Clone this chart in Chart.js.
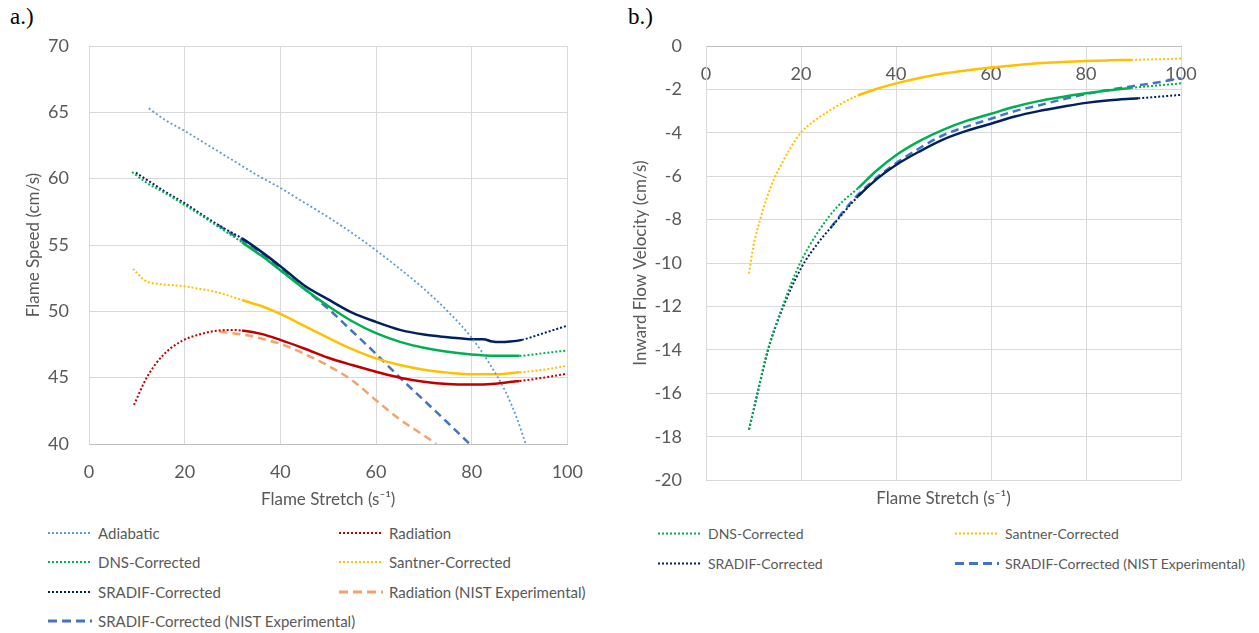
<!DOCTYPE html>
<html>
<head>
<meta charset="utf-8">
<script src="https://cdn.jsdelivr.net/npm/chart.js@4.4.1/dist/chart.umd.min.js"></script>
<style>
  body { margin: 0; width: 1259px; height: 633px; background: #fff; position: relative; overflow: hidden; font-family: Lato, sans-serif; }
  .tag { position: absolute; top: 4px; font-family: "Liberation Serif", serif; font-size: 23px; color: #000; }
  canvas { position: absolute; top: 0; }
  .item { position: absolute; display: flex; align-items: center; white-space: nowrap; font-size: 14px; color: #595959; transform: translateY(-50%); }
  #legendA .item { font-size: 15px; }
  .item svg { margin-right: 6px; }
</style>
</head>
<body>
<div class="tag" style="left:10px">a.)</div>
<div class="tag" style="left:628px">b.)</div>
<canvas id="chartA" width="600" height="515" style="left:0"></canvas>
<canvas id="chartB" width="659" height="515" style="left:600px"></canvas>
<div id="legendA"></div>
<div id="legendB"></div>
<script>
// ---- panel a: flame speed vs stretch ----
const adiabaticX = [12.5, 16, 20, 25, 30, 35, 40, 45, 50, 55, 60, 65, 70, 75, 80, 84, 87, 89.5, 91.3];
const adiabaticY = [65.3, 64.4, 63.6, 62.5, 61.4, 60.3, 59.3, 58.2, 57.1, 55.9, 54.6, 53.2, 51.7, 50.0, 48.0, 45.9, 44.0, 41.9, 40.0];

const radiationX = [9.4, 12, 15.5, 19.6, 23, 26, 30, 32, 36, 40, 45, 50, 55, 60, 65, 70, 75, 80, 85, 90, 95, 100];
const radiationY = [42.95, 44.96, 46.7, 47.8, 48.25, 48.5, 48.6, 48.55, 48.3, 47.85, 47.2, 46.5, 45.95, 45.45, 45.0, 44.7, 44.52, 44.48, 44.55, 44.75, 45.0, 45.3];

const dnsX = [9, 12, 16, 19.8, 24, 28, 32, 36, 40, 45, 50, 55, 60, 65, 70, 75, 80, 85, 90, 95, 100];
const dnsY = [60.5, 59.7, 58.9, 58.06, 57.1, 56.15, 55.2, 54.2, 53.1, 51.7, 50.4, 49.25, 48.35, 47.7, 47.25, 46.95, 46.75, 46.65, 46.65, 46.85, 47.05];

const santnerX = [9.2, 11.8, 15, 19.8, 23, 26.1, 29, 32, 36, 40, 45, 50, 55, 60, 65, 70, 75, 80, 85, 90, 95, 100];
const santnerY = [53.2, 52.3, 52.05, 51.9, 51.7, 51.5, 51.2, 50.85, 50.4, 49.8, 48.9, 48.0, 47.15, 46.45, 45.95, 45.6, 45.38, 45.25, 45.25, 45.4, 45.6, 45.9];

const sradifX = [9.8, 13, 16, 19.8, 24, 28, 32, 36, 40, 45, 50, 55, 60, 65, 70, 75, 78, 80.5, 82.5, 84, 86, 88, 90.5, 95, 100];
const sradifY = [60.45, 59.7, 59.0, 58.2, 57.2, 56.3, 55.5, 54.5, 53.4, 51.95, 50.9, 49.9, 49.2, 48.6, 48.25, 48.05, 47.95, 47.9, 47.9, 47.75, 47.68, 47.72, 47.85, 48.35, 48.92];

const radNistX = [27.3, 30, 33, 36, 40, 45, 50, 55, 60, 65, 70, 72.6];
const radNistY = [48.47, 48.35, 48.2, 47.95, 47.55, 46.8, 45.9, 44.8, 43.3, 41.85, 40.65, 40.0];

const sradifNistX = [27, 30, 32.5, 36, 40, 45, 50, 55, 60, 65, 70, 75, 79.6];
const sradifNistY = [56.5, 55.8, 55.2, 54.3, 53.2, 51.7, 50.2, 48.5, 46.8, 45.0, 43.3, 41.6, 40.0];

// ---- panel b: inward flow velocity vs stretch ----
const santnerBX = [9.05, 10, 11.3, 12.8, 14.4, 16, 17.5, 20.1, 22.5, 25.5, 28.5, 32, 36, 40, 45, 50, 55, 60, 65, 70, 75, 80, 85, 89.5, 95, 100];
const santnerBY = [-10.48, -9.2, -8.07, -7.0, -6.09, -5.4, -4.8, -3.96, -3.5, -3.05, -2.65, -2.28, -1.97, -1.72, -1.47, -1.27, -1.12, -0.99, -0.89, -0.8, -0.74, -0.69, -0.66, -0.64, -0.61, -0.58];

const dnsBX = [9.05, 10.8, 13, 16.1, 19.7, 23.7, 27.7, 32, 36, 40, 45, 50, 55, 60, 65, 70, 75, 80, 85, 89.5, 95, 100];
const dnsBY = [-17.67, -16.0, -14.0, -12.0, -10.05, -8.53, -7.39, -6.55, -5.72, -5.03, -4.37, -3.85, -3.44, -3.12, -2.8, -2.54, -2.35, -2.18, -2.04, -1.93, -1.82, -1.72];

const sradifBX = [9.05, 10.8, 13, 16.1, 20.1, 23.5, 26.8, 32, 36, 40, 45, 50, 55, 60, 65, 70, 75, 80, 85, 91, 95, 100];
const sradifBY = [-17.67, -16.05, -14.05, -12.1, -10.2, -9.1, -8.23, -6.93, -6.12, -5.48, -4.85, -4.3, -3.9, -3.58, -3.25, -3.0, -2.8, -2.62, -2.5, -2.41, -2.34, -2.25];

const sradifNistBX = [26.2, 29, 32, 36, 40, 45, 50, 55, 60, 65, 70, 75, 80, 85, 89.5, 95, 100];
const sradifNistBY = [-8.38, -7.6, -6.85, -6.05, -5.4, -4.7, -4.1, -3.7, -3.35, -3.0, -2.74, -2.46, -2.21, -2.02, -1.86, -1.68, -1.49];

const xTicks = [0, 20, 40, 60, 80, 100];
const speedTicks = [40, 45, 50, 55, 60, 65, 70];
const velocityTicks = [0, -2, -4, -6, -8, -10, -12, -14, -16, -18, -20];

const GREY = '#595959';
const GRID = '#d9d9d9';
Chart.defaults.font.family = 'Lato, sans-serif';
Chart.defaults.color = GREY;

function zip(xs, ys) {
  return xs.map((x, i) => ({x: x, y: ys[i]}));
}

// a line that is dotted outside [lo, hi] and solid inside it
function fitted(label, color, xs, ys, lo, hi) {
  return {
    label: label, data: zip(xs, ys), borderColor: color, style: 'dot',
    borderWidth: 2, borderDash: [2, 2], pointRadius: 0, cubicInterpolationMode: 'monotone',
    segment: {
      borderDash: ctx => (ctx.p0.parsed.x >= lo && ctx.p1.parsed.x <= hi) ? [] : [2, 2],
      borderWidth: ctx => (ctx.p0.parsed.x >= lo && ctx.p1.parsed.x <= hi) ? 2.5 : 2
    }
  };
}
function dotted(label, color, xs, ys) {
  return {label: label, data: zip(xs, ys), borderColor: color, style: 'dot',
    borderWidth: 1.8, borderDash: [2, 2.4], pointRadius: 0, cubicInterpolationMode: 'monotone'};
}
function dashed(label, color, xs, ys) {
  return {label: label, data: zip(xs, ys), borderColor: color, style: 'dash',
    borderWidth: 2.5, borderDash: [8, 5], pointRadius: 0, cubicInterpolationMode: 'monotone'};
}

const tickFont = {size: 18};
const titleFont = {size: 17};

const chartA = new Chart(document.getElementById('chartA'), {
  type: 'line',
  data: {datasets: [
    dotted('Adiabatic', '#5b9bd5', adiabaticX, adiabaticY),
    fitted('Radiation', '#c00000', radiationX, radiationY, 32, 90),
    fitted('DNS-Corrected', '#00b050', dnsX, dnsY, 32, 90),
    fitted('Santner-Corrected', '#ffc000', santnerX, santnerY, 32, 90),
    fitted('SRADIF-Corrected', '#002060', sradifX, sradifY, 32, 90.5),
    dashed('Radiation (NIST Experimental)', '#f4a26a', radNistX, radNistY),
    dashed('SRADIF-Corrected (NIST Experimental)', '#4472c4', sradifNistX, sradifNistY)
  ]},
  options: {
    responsive: false, animation: false,
    layout: {padding: {top: 46, right: 31, left: 0, bottom: 0}},
    plugins: {legend: {display: false}, tooltip: {enabled: false}},
    scales: {
      x: {
        type: 'linear', min: 0, max: 100,
        afterBuildTicks: s => { s.ticks = xTicks.map(v => ({value: v})); },
        ticks: {font: tickFont, padding: 17, maxRotation: 0},
        grid: {color: GRID, drawTicks: false},
        border: {color: '#bfbfbf'},
        title: {display: true, text: 'Flame Stretch (s\u207B\u00B9)', font: titleFont, padding: {top: 0, bottom: 5}},
        afterFit: s => { s.height = 71; }
      },
      y: {
        min: 40, max: 70,
        afterBuildTicks: s => { s.ticks = speedTicks.map(v => ({value: v})); },
        ticks: {font: tickFont, padding: 20},
        grid: {color: GRID, drawTicks: false},
        border: {color: GRID},
        title: {display: true, text: 'Flame Speed (cm/s)', font: titleFont, padding: {top: 23, bottom: 0}},
        afterFit: s => { s.width = 89; }
      }
    }
  }
});

const chartB = new Chart(document.getElementById('chartB'), {
  type: 'line',
  data: {datasets: [
    fitted('DNS-Corrected', '#00b050', dnsBX, dnsBY, 32, 90),
    fitted('Santner-Corrected', '#ffc000', santnerBX, santnerBY, 32, 90),
    fitted('SRADIF-Corrected', '#002060', sradifBX, sradifBY, 32, 91),
    dashed('SRADIF-Corrected (NIST Experimental)', '#4472c4', sradifNistBX, sradifNistBY)
  ]},
  options: {
    responsive: false, animation: false,
    layout: {padding: {top: 46, right: 78, left: 0, bottom: 0}},
    plugins: {legend: {display: false}, tooltip: {enabled: false}},
    scales: {
      x: {
        type: 'linear', min: 0, max: 100, position: {y: 0},
        afterBuildTicks: s => { s.ticks = xTicks.map(v => ({value: v})); },
        ticks: {font: tickFont, padding: 17, maxRotation: 0},
        grid: {color: GRID, drawTicks: false},
        border: {color: '#bfbfbf'}
      },
      xt: {
        type: 'linear', min: 0, max: 100, position: 'bottom',
        ticks: {display: false},
        grid: {display: false},
        border: {display: false},
        title: {display: true, text: 'Flame Stretch (s\u207B\u00B9)', font: titleFont, padding: {top: 0, bottom: 1}},
        afterFit: s => { s.height = 30; }
      },
      y: {
        min: -20, max: 0,
        afterBuildTicks: s => { s.ticks = velocityTicks.map(v => ({value: v})); },
        ticks: {font: tickFont, padding: 24},
        grid: {color: GRID, drawTicks: false},
        border: {color: GRID},
        title: {display: true, text: 'Inward Flow Velocity (cm/s)', font: titleFont, padding: {top: 30, bottom: 0}},
        afterFit: s => { s.width = 106; }
      }
    }
  }
});

// HTML legends laid out in two columns like the original
function buildLegend(chart, holderId, cols, rows) {
  const holder = document.getElementById(holderId);
  chart.data.datasets.forEach((ds, i) => {
    const item = document.createElement('div');
    item.className = 'item';
    item.style.left = cols[i % 2] + 'px';
    item.style.top = rows[Math.floor(i / 2)] + 'px';
    const dash = ds.style === 'dash' ? '9 5' : '2 2';
    const w = ds.style === 'dash' ? 3 : 2;
    item.innerHTML = '<svg width="44" height="6"><line x1="0" y1="3" x2="44" y2="3" stroke="' +
      ds.borderColor + '" stroke-width="' + w + '" stroke-dasharray="' + dash + '"/></svg>';
    const txt = document.createElement('span');
    txt.textContent = ds.label;
    item.appendChild(txt);
    holder.appendChild(item);
  });
}
buildLegend(chartA, 'legendA', [48, 339], [533, 562, 592, 621]);
buildLegend(chartB, 'legendB', [658, 955], [533, 563]);
</script>
</body>
</html>
